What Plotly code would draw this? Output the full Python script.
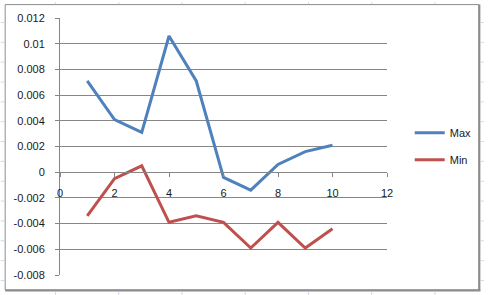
import plotly.graph_objects as go

x_vals = [1, 2, 3, 4, 5, 6, 7, 8, 9, 10]
max_vals = [0.0071, 0.0041, 0.0031, 0.0106, 0.0071, -0.0004, -0.0014, 0.0006, 0.0016, 0.0021]
min_vals = [-0.0034, -0.0005, 0.0005, -0.0039, -0.0034, -0.0039, -0.0059, -0.0039, -0.0059, -0.0044]
y_tick_vals = [0.012, 0.01, 0.008, 0.006, 0.004, 0.002, 0, -0.002, -0.004, -0.006, -0.008]
y_tick_text = ["0.012", "0.01", "0.008", "0.006", "0.004", "0.002", "0", "-0.002", "-0.004", "-0.006", "-0.008"]
x_tick_vals = [0, 2, 4, 6, 8, 10, 12]
x_tick_text = ["0", "2", "4", "6", "8", "10", "12"]

W, H = 489, 295
L, R, T, B = 60, 98, 16, 20
PW, PH = W - L - R, H - T - B

def px(x):
    return (x - L) / PW

def py(y):
    return (H - B - y) / PH

FONT = "Liberation Sans, Arial, sans-serif"
GRID = "#868686"

fig = go.Figure()
fig.add_trace(go.Scatter(x=x_vals, y=max_vals, mode="lines", name="Max",
                         line=dict(color="#4F81BD", width=3), legendgroup="a"))
fig.add_trace(go.Scatter(x=x_vals, y=min_vals, mode="lines", name="Min",
                         line=dict(color="#C0504D", width=3), legendgroup="b"))

shapes = []
# chart frame
shapes.append(dict(type="rect", xref="paper", yref="paper", x0=px(4.5), x1=px(484), y0=py(2.5), y1=py(290),
                   line=dict(color="#8c8c8c", width=1), layer="below"))
shapes.append(dict(type="line", xref="paper", yref="paper", x0=px(484.5), x1=px(484.5), y0=py(2.5), y1=py(291),
                   line=dict(color="#8c8c8c", width=2)))
shapes.append(dict(type="line", xref="paper", yref="paper", x0=px(4.5), x1=px(485.5), y0=py(290.5), y1=py(290.5),
                   line=dict(color="#8c8c8c", width=2)))
# spreadsheet cell lines outside the chart
for yy in range(20, 295, 20):
    shapes.append(dict(type="line", xref="paper", yref="paper", x0=px(0), x1=px(4), y0=py(yy + 0.5), y1=py(yy + 0.5),
                       line=dict(color="#d0d7e5", width=1)))
    shapes.append(dict(type="line", xref="paper", yref="paper", x0=px(486), x1=px(489), y0=py(yy + 0.5), y1=py(yy + 0.5),
                       line=dict(color="#d0d7e5", width=1)))
for xx in range(55, 489, 64):
    shapes.append(dict(type="line", xref="paper", yref="paper", x0=px(xx + 0.5), x1=px(xx + 0.5), y0=py(0), y1=py(2),
                       line=dict(color="#d0d7e5", width=1)))
    shapes.append(dict(type="line", xref="paper", yref="paper", x0=px(xx + 0.5), x1=px(xx + 0.5), y0=py(292), y1=py(295),
                       line=dict(color="#d0d7e5", width=1)))

fig.update_layout(
    width=W, height=H,
    margin=dict(l=L, r=R, t=T, b=B, pad=0),
    paper_bgcolor="white", plot_bgcolor="white",
    font=dict(family=FONT, size=11, color="#1a1a1a"),
    showlegend=True,
    legend=dict(x=px(414), y=py(117), xanchor="left", yanchor="top",
                bgcolor="rgba(0,0,0,0)", font=dict(size=11, color="#1a1a1a"),
                tracegroupgap=8, itemwidth=30),
    shapes=shapes,
    xaxis=dict(range=[0, 12], tickvals=x_tick_vals, ticktext=x_tick_text,
               showgrid=False, zeroline=False, showline=True, linecolor=GRID, linewidth=1,
               ticks="outside", ticklen=4, tickcolor=GRID,
               anchor="free", position=0.4, ticklabelstandoff=7),
    yaxis=dict(range=[-0.008, 0.012], tickvals=y_tick_vals, ticktext=y_tick_text,
               showgrid=True, gridcolor=GRID, gridwidth=1, zeroline=False,
               showline=True, linecolor=GRID, linewidth=1,
               ticks="outside", ticklen=4, tickcolor=GRID, ticklabelstandoff=8),
)

fig.write_html("out.html")
